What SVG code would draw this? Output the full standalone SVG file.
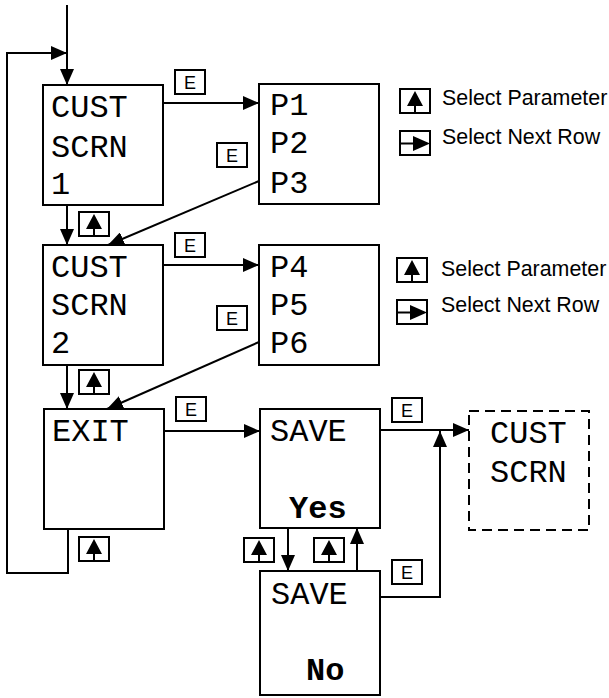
<svg xmlns="http://www.w3.org/2000/svg" xmlns:xlink="http://www.w3.org/1999/xlink" width="609" height="698" viewBox="0 0 609 698">
<style>
.box{fill:#fff;stroke:#000;stroke-width:2}
.dash{fill:#fff;stroke:#000;stroke-width:2;stroke-dasharray:10 6}
.mono{font-family:"Liberation Mono","Courier New",monospace;font-size:32px;fill:#000}
.bold{font-weight:bold}
.leg{font-family:"Liberation Sans",Arial,sans-serif;font-size:21.4px;fill:#000}
.ek{font-family:"Liberation Sans",Arial,sans-serif;font-size:18px;fill:#000;text-anchor:middle}
.ln{fill:none;stroke:#000;stroke-width:2}
.ib{fill:#fff;stroke:#000;stroke-width:2}
</style>
<defs>
<marker id="ah" markerUnits="userSpaceOnUse" markerWidth="16" markerHeight="14" refX="16" refY="7" orient="auto">
<path d="M0,0 L16,7 L0,14 Z" fill="#000"/>
</marker>
<g id="up">
<rect class="ib" x="0" y="0" width="30" height="24"/>
<path d="M15,2 L7,17 L23,17 Z" fill="#000"/>
<line x1="15" y1="17" x2="15" y2="24" stroke="#000" stroke-width="2"/>
</g>
<g id="rt">
<rect class="ib" x="0" y="0" width="30" height="24"/>
<line x1="0" y1="12.5" x2="14" y2="12.5" stroke="#000" stroke-width="2"/>
<path d="M13,5 L30,12.5 L13,20 Z" fill="#000"/>
</g>
<g id="ekey">
<rect class="ib" x="0" y="0" width="30" height="24"/>
<text class="ek" x="15" y="19">E</text>
</g>
</defs>

<g id="connectors">
<line class="ln" x1="67" y1="5" x2="67" y2="85" marker-end="url(#ah)"/>
<polyline class="ln" points="68,529 68,573 7,573 7,53 67,53" marker-end="url(#ah)"/>
<line class="ln" x1="163" y1="103" x2="259" y2="103" marker-end="url(#ah)"/>
<line class="ln" x1="259" y1="181" x2="108" y2="245" marker-end="url(#ah)"/>
<line class="ln" x1="67" y1="205" x2="67" y2="245" marker-end="url(#ah)"/>
<line class="ln" x1="163" y1="265" x2="259" y2="265" marker-end="url(#ah)"/>
<line class="ln" x1="259" y1="342" x2="107" y2="409" marker-end="url(#ah)"/>
<line class="ln" x1="67" y1="365" x2="67" y2="409" marker-end="url(#ah)"/>
<line class="ln" x1="164" y1="431" x2="260" y2="431" marker-end="url(#ah)"/>
<line class="ln" x1="380" y1="430" x2="469" y2="430" marker-end="url(#ah)"/>
<line class="ln" x1="288" y1="528" x2="288" y2="571" marker-end="url(#ah)"/>
<line class="ln" x1="357" y1="571" x2="357" y2="528" marker-end="url(#ah)"/>
<polyline class="ln" points="380,597 440,597 440,431" marker-end="url(#ah)"/>
</g>

<g id="scrn1">
<rect class="box" x="43" y="85" width="120" height="120"/>
<text class="mono" x="51" y="117">CUST</text>
<text class="mono" x="51" y="157">SCRN</text>
<text class="mono" x="51" y="194">1</text>
</g>
<g id="params1">
<rect class="box" x="259" y="84" width="120" height="120"/>
<text class="mono" x="270" y="115">P1</text>
<text class="mono" x="270" y="153">P2</text>
<text class="mono" x="270" y="193">P3</text>
</g>
<g id="scrn2">
<rect class="box" x="43" y="245" width="120" height="120"/>
<text class="mono" x="51" y="277">CUST</text>
<text class="mono" x="51" y="315">SCRN</text>
<text class="mono" x="51" y="353">2</text>
</g>
<g id="params2">
<rect class="box" x="259" y="245" width="120" height="120"/>
<text class="mono" x="270" y="277">P4</text>
<text class="mono" x="270" y="315">P5</text>
<text class="mono" x="270" y="353">P6</text>
</g>
<g id="exit">
<rect class="box" x="44" y="409" width="120" height="120"/>
<text class="mono" x="52" y="441">EXIT</text>
</g>
<g id="saveYes">
<rect class="box" x="260" y="409" width="120" height="119"/>
<text class="mono" x="270" y="441">SAVE</text>
<text class="mono bold" x="289" y="518">Yes</text>
</g>
<g id="saveNo">
<rect class="box" x="260" y="571" width="120" height="124"/>
<text class="mono" x="271" y="604">SAVE</text>
<text class="mono bold" x="306" y="680">No</text>
</g>
<g id="custScrn">
<rect class="dash" x="469" y="411" width="120" height="119"/>
<text class="mono" x="490" y="443">CUST</text>
<text class="mono" x="490" y="482">SCRN</text>
</g>

<g id="keys">
<use xlink:href="#ekey" x="175" y="70"/>
<use xlink:href="#ekey" x="217" y="143"/>
<use xlink:href="#ekey" x="175" y="233"/>
<use xlink:href="#ekey" x="217" y="306"/>
<use xlink:href="#ekey" x="176" y="397"/>
<use xlink:href="#ekey" x="392" y="398"/>
<use xlink:href="#ekey" x="392" y="560"/>
<use xlink:href="#up" x="79" y="212"/>
<use xlink:href="#up" x="79" y="370"/>
<use xlink:href="#up" x="79" y="537"/>
<use xlink:href="#up" x="244" y="538"/>
<use xlink:href="#up" x="314" y="538"/>
</g>

<g id="legend1">
<use xlink:href="#up" x="400" y="89"/>
<text class="leg" x="442" y="105">Select Parameter</text>
<use xlink:href="#rt" x="400" y="131"/>
<text class="leg" x="442" y="144">Select Next Row</text>
</g>
<g id="legend2">
<use xlink:href="#up" x="397" y="258"/>
<text class="leg" x="441" y="276">Select Parameter</text>
<use xlink:href="#rt" x="397" y="300"/>
<text class="leg" x="441" y="312">Select Next Row</text>
</g>
</svg>
